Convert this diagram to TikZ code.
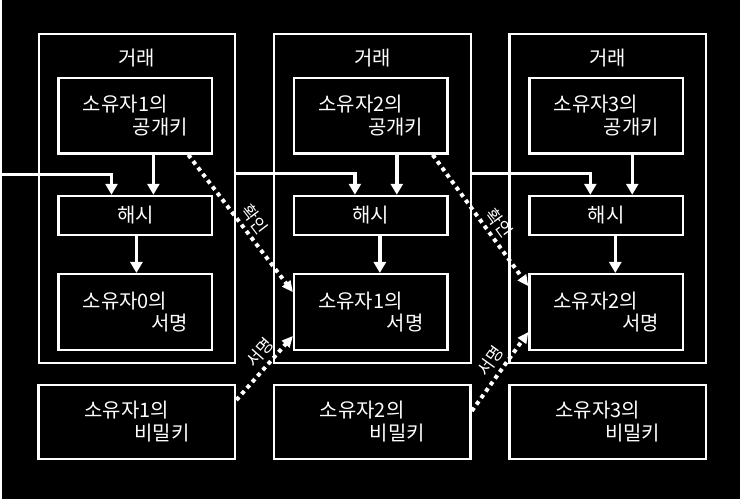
\documentclass[tikz,border=0pt]{standalone}
\usepackage{fontspec}
\setmainfont{Noto Sans CJK KR}
\usetikzlibrary{positioning}
\usetikzlibrary{arrows.meta}

\begin{document}
\begin{tikzpicture}[x=1pt, y=-1pt,
	tx/.style={draw=white, line width=2.2pt, minimum width=197pt, minimum height=330pt},
	entry/.style={draw=white, line width=2.4pt, minimum width=154pt, minimum height=76pt, inner sep=0pt, text=white, font=\fontsize{20}{23}\selectfont, align=left},
	hashbox/.style={entry, minimum height=39pt},
	keybox/.style={entry, minimum width=197pt, minimum height=74pt},
	title/.style={text=white, font=\fontsize{20}{23}\selectfont},
	flow/.style={white, line width=3.5pt, -{Triangle[length=11pt, width=12pt]}},
	sign/.style={white, line width=4pt, dash pattern=on 4pt off 4pt, -{Triangle[length=11pt, width=10pt]}},
	tag/.style={text=white, font=\fontsize{17}{20}\selectfont, sloped, above=4pt, inner sep=0pt}]
	\fill[black] (0,0) rectangle (740,500);

	\node [tx] (tx1) at (135.5,199) {};
	\node [title] (tt1) at (135.5,58) {거래};
	\node [entry] (pk1) at (134,116) {소유자1의\\\hspace*{2.5em}공개키};
	\node [hashbox, below=40pt of pk1] (hash1) {해시};
	\node [entry, below=37pt of hash1] (sig1) {소유자0의\\\hspace*{3.45em}서명};
	\node [keybox] (key1) at (135.5,423) {소유자1의\\\hspace*{2.5em}비밀키};

	\node [tx] (tx2) at (371.5,199) {};
	\node [title] (tt2) at (371.5,58) {거래};
	\node [entry] (pk2) at (370,116) {소유자2의\\\hspace*{2.5em}공개키};
	\node [hashbox, below=40pt of pk2] (hash2) {해시};
	\node [entry, below=37pt of hash2] (sig2) {소유자1의\\\hspace*{3.45em}서명};
	\node [keybox] (key2) at (371.5,423) {소유자2의\\\hspace*{2.5em}비밀키};

	\node [tx] (tx3) at (607.5,199) {};
	\node [title] (tt3) at (607.5,58) {거래};
	\node [entry] (pk3) at (606,116) {소유자3의\\\hspace*{2.5em}공개키};
	\node [hashbox, below=40pt of pk3] (hash3) {해시};
	\node [entry, below=37pt of hash3] (sig3) {소유자2의\\\hspace*{3.45em}서명};
	\node [keybox] (key3) at (607.5,423) {소유자3의\\\hspace*{2.5em}비밀키};

	\coordinate (in1) at (0,175);
	\draw[flow] (in1) -| ([xshift=-24pt]hash1.north);
	\draw[flow] ([xshift=18pt]pk1.south) -- ([xshift=18pt]hash1.north);
	\draw[flow] ([xshift=1pt]hash1.south) -- ([xshift=1pt]sig1.north);

	\draw[flow] ([yshift=25pt]tx1.east) -| ([xshift=-16pt]hash2.north);
	\draw[flow] ([xshift=26pt]pk2.south) -- ([xshift=26pt]hash2.north);
	\draw[flow] ([xshift=9pt]hash2.south) -- ([xshift=9pt]sig2.north);

	\draw[flow] ([yshift=25pt]tx2.east) -| ([xshift=-16pt]hash3.north);
	\draw[flow] ([xshift=26pt]pk3.south) -- ([xshift=26pt]hash3.north);
	\draw[flow] ([xshift=9pt]hash3.south) -- ([xshift=9pt]sig3.north);

	\draw[sign] ([xshift=53pt]pk1.south) -- node[tag, pos=0.53] {확인} ([yshift=20pt]sig2.west);
	\draw[sign] ([yshift=22pt]key1.east) -- node[tag, pos=0.6] {서명} ([yshift=-24pt]sig2.west);
	\draw[sign] ([xshift=62pt]pk2.south) -- node[tag, pos=0.58] {확인} ([yshift=26pt]sig3.west);
	\draw[sign] ([yshift=11pt]key2.east) -- node[tag, pos=0.53] {서명} ([yshift=-20pt]sig3.west);
\end{tikzpicture}
\end{document}
